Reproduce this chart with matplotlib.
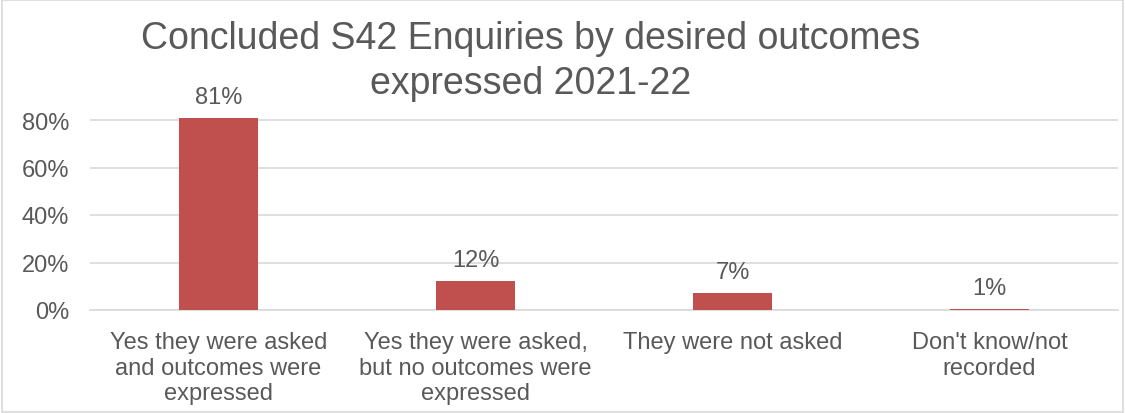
import matplotlib
matplotlib.use("Agg")
import matplotlib.pyplot as plt
from matplotlib.patches import Rectangle

plt.rcParams["font.family"] = ["Liberation Sans", "DejaVu Sans"]

TEXT = "#595959"
BAR = "#C0504D"
GRID = "#D9D9D9"

categories = [
    "Yes they were asked\nand outcomes were\nexpressed",
    "Yes they were asked,\nbut no outcomes were\nexpressed",
    "They were not asked",
    "Don't know/not\nrecorded",
]
values = [80.8, 12.3, 7.2, 0.5]
value_labels = ["81%", "12%", "7%", "1%"]
yticks = [0, 20, 40, 60, 80]
ytick_labels = ["0%", "20%", "40%", "60%", "80%"]
title_lines = ["Concluded S42 Enquiries by desired outcomes", "expressed 2021-22"]

W, H = 1125, 414
fig = plt.figure(figsize=(W / 100, H / 100), dpi=100)
fig.patch.set_facecolor("white")

left, right, bottom, top = 90, 1118, 311, 102
ax = fig.add_axes([left / W, (H - bottom) / H, (right - left) / W, (bottom - top) / H])

x = list(range(len(categories)))
bars = ax.bar(x, values, width=0.31, color=BAR, zorder=3)
ax.bar_label(bars, labels=value_labels, padding=7, fontsize=17, color=TEXT)

ax.set_xlim(-0.5, len(categories) - 0.5)
ax.set_ylim(0, 88)
ax.set_yticks(yticks)
ax.set_yticklabels(ytick_labels)
ax.set_xticks(x)
ax.set_xticklabels(categories, linespacing=1.22)
ax.tick_params(axis="both", length=0, labelsize=17, labelcolor=TEXT)
ax.tick_params(axis="x", pad=15)
ax.tick_params(axis="y", pad=15)

ax.yaxis.grid(True, color=GRID, linewidth=1.2, zorder=0)
for s in ["top", "right", "left"]:
    ax.spines[s].set_visible(False)
ax.spines["bottom"].set_color(GRID)
ax.spines["bottom"].set_linewidth(1.2)

# title drawn as two lines so each keeps its own box
for i, line in enumerate(title_lines):
    fig.text(531 / W, 1 - (49 + 45 * i) / H, line, ha="center", va="baseline",
             fontsize=27, color=TEXT)

fig.patches.append(Rectangle((0.002, 0.002), 0.996, 0.995, transform=fig.transFigure,
                             fill=False, edgecolor=GRID, linewidth=1.2))

plt.savefig("out.png", dpi=100)
plt.close()
